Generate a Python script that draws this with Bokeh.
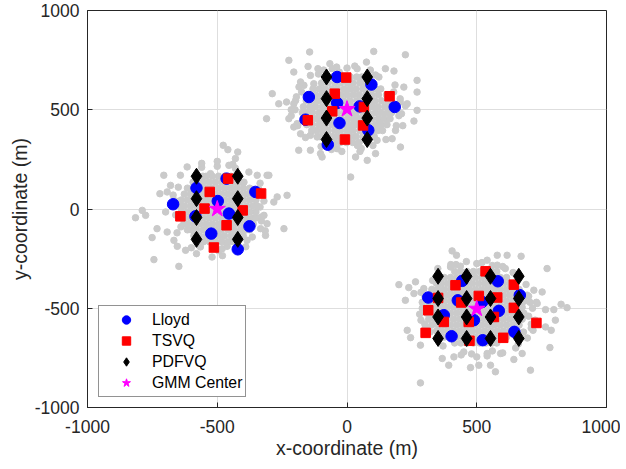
from bokeh.plotting import figure
from bokeh.models import Range1d, FixedTicker, Legend, LegendItem
from bokeh.embed import file_html
from bokeh.resources import INLINE

TICKS = [-1000, -500, 0, 500, 1000]
TICK_LABELS = ["-1000", "-500", "0", "500", "1000"]
X_LABEL = "x-coordinate (m)"
Y_LABEL = "y-coordinate (m)"
SERIES = ["Lloyd", "TSVQ", "PDFVQ", "GMM Center"]

# --- Lloyd codewords (blue circles)
lloyd_x = [-38, 94, -147, -38, 49, 184, -160, -29, 82, -74,
           -464, -580, -353, -670, -498, -455, -584, -376, -523, -421,
           313, 444, 581, 666, 427, 521, 373, 585, 489, 645, 403, 523]
lloyd_y = [665, 627, 564, 534, 517, 514, 450, 433, 397, 324,
           153, 106, 86, 24, 40, -23, -37, -87, -124, -203,
           -446, -362, -364, -434, -460, -468, -535, -513, -560, -619, -641, -661]

# --- TSVQ codewords (red squares)
tsvq_x = [-3, -47, 164, -57, 65, -151, 62, -8,
          -458, -529, -331, -549, -402, -642, -464, -513,
          534, 418, 643, 508, 579, 313, 643, 440, 373, 566, 469, 730, 303, 602, 472, 351]
tsvq_y = [662, 581, 568, 492, 514, 447, 421, 350,
          153, 86, 78, 2, -7, -37, -82, -194,
          -314, -384, -381, -438, -446, -510, -498, -471, -569, -544, -569, -574, -624, -649, -664, -448]

# --- PDFVQ codewords (black diamonds)
pdfvq_x = [-79, 78, -79, 78, -79, 78, -79, 78,
           -580, -421, -580, -421, -580, -421, -580, -421,
           351, 461, 553, 662, 351, 461, 553, 662, 351, 461, 553, 662, 351, 461, 553, 662]
pdfvq_y = [665, 665, 556, 556, 458, 458, 350, 350,
           165, 165, 52, 52, -43, -43, -153, -153,
           -339, -339, -339, -339, -451, -451, -451, -451, -544, -544, -544, -544, -652, -652, -652, -652]

# --- GMM centres (magenta stars)
gmm_x = [0, -500, 500]
gmm_y = [503, 0, -503]

# --- gray samples: scattered outer points
gray1_x = [-144, 103, 225, -224, -66, 75, -150, -112, -57, 39, 148, -205, -141, 123, 181, -179, -166,
           -128, -288, -263, -233, -198, 270, 270, 219, -310, -224, -205, -192, 258, 270, 232, 187, 174,
           116, -141, -179, -115, -186, -141, -96, -102, -38, 33, 78, 110, 14, -301, 206,
           -200, -195, 205, 200, 185, -185, -110, 110, 0, -60, 55, 150, -160, 215, -30, 40, -215, 225,
           -190, -205, -175, 190, 205, 180, -90, -40, 30, 90, -100, -20, 50, 100, -215, 210]
gray1_y = [791, 794, 777, 749, 732, 740, 718, 707, 707, 707, 707, 690, 673, 665, 695, 640, 623,
           631, 581, 530, 539, 547, 648, 589, 614, 455, 455, 413, 430, 443, 497, 530, 396, 354,
           346, 371, 379, 363, 296, 296, 262, 279, 304, 262, 245, 279, 161, 170, 312,
           500, 565, 555, 470, 625, 615, 680, 675, 710, 300, 305, 350, 360, 420, 690, 320, 470, 520,
           420, 530, 590, 420, 540, 590, 700, 715, 720, 700, 315, 290, 290, 320, 500, 480]

gray2_x = [-477, -459, -421, -430, -455, -616, -706, -642, -526, -378, -346, -308, -680, -721, -693,
           -269, -282, -231, -789, -815, -776, -699, -320, -308, -243, -333, -314, -732, -693, -751,
           -667, -654, -622, -565, -481, -462, -744, -648, -385, -365, -520,
           -660, -330, -640, -340, -560, -430, -500, -650, -335, -600, -390, -495,
           -660, -670, -655, -330, -320, -335, -560, -500, -440, -580, -480, -420, -680, -315]
gray2_y = [321, 299, 287, 254, 220, 212, 170, 170, 178, 186, 170, 170, 119, 77, 86,
           61, 35, 69, -7, -44, -32, -15, -32, -74, -99, -99, -133, -99, -116, -144,
           -158, -188, -208, -191, -200, -188, -255, -289, -158, -141, -242,
           40, -40, -90, 100, 210, 205, 215, 110, 10, -195, -190, -210,
           -30, 70, -120, -60, 40, 130, 230, 240, 225, -225, -235, -215, 20, -110]

gray3_x = [405, 422, 540, 579, 617, 671, 579, 399, 437, 771, 200, 238, 264, 258, 225, 296, 720, 752,
           694, 733, 765, 797, 825, 848, 803, 765, 787, 717, 232, 245, 283, 303, 782, 675, 643, 367,
           392, 476, 508, 572, 707, 283, 592, 553, 412, 540,
           290, 300, 700, 705, 690, 320, 330, 680, 400, 600, 500, 450, 560, 285, 710, 480,
           700, 715, 725, 710, 730, 695, 290, 280, 300, 285, 420, 460, 520, 560, 610, 440, 500, 540,
           600, 650, 350, 640, 370, 660]
gray3_y = [-211, -233, -258, -233, -233, -238, -283, -292, -288, -300, -381, -396, -367, -426, -460,
           -401, -409, -418, -434, -476, -507, -507, -480, -497, -560, -594, -611, -611, -611, -648,
           -686, -594, -698, -728, -758, -753, -787, -799, -787, -820, -812, -876, -728, -787, -745, -728,
           -500, -440, -540, -470, -380, -620, -360, -620, -280, -290, -275, -720, -715, -560, -580, -730,
           -440, -500, -560, -600, -470, -650, -470, -530, -580, -420, -280, -265, -270, -285, -300,
           -735, -745, -740, -725, -700, -300, -320, -690, -680]

# --- gray samples: dense cores, as (row y, row x values)
core1_rows = [
    (335, [-50, -26, -2, 22, 47]),
    (365, [-106, -85, -59, -37, -13, 11, 35, 61, 83, 105]),
    (395, [-136, -118, -95, -73, -47, -25, 1, 23, 49, 71, 97, 119, 137]),
    (425, [-155, -133, -107, -85, -59, -37, -11, 13, 35, 61, 83, 109, 131, 154]),
    (455, [-167, -145, -119, -97, -71, -49, -23, 2, 25, 47, 73, 95, 121, 143, 166]),
    (485, [-172, -155, -133, -107, -85, -59, -37, -11, 13, 35, 61, 83, 109, 131, 155, 171]),
    (515, [-168, -143, -121, -95, -73, -47, -25, 1, 23, 49, 71, 97, 119, 145, 167]),
    (545, [-157, -131, -109, -83, -61, -35, -13, 11, 37, 59, 85, 107, 133, 157]),
    (575, [-153, -121, -97, -71, -49, -23, 0, 24, 47, 73, 95, 121, 152]),
    (605, [-131, -107, -85, -59, -37, -11, 13, 35, 61, 83, 109, 130]),
    (635, [-98, -73, -47, -25, 2, 23, 49, 71, 96]),
    (665, [-58, -35, -11, 13, 37, 57]),
]
core2_rows = [
    (-165, [-553, -530, -506, -482, -458, -438]),
    (-135, [-590, -568, -542, -520, -494, -472, -446, -424, -400]),
    (-105, [-615, -601, -580, -554, -532, -506, -484, -458, -436, -410, -388, -375]),
    (-75, [-629, -615, -591, -567, -543, -519, -495, -471, -447, -423, -399, -375, -361]),
    (-45, [-639, -627, -603, -579, -555, -531, -507, -483, -459, -435, -411, -387, -363, -351]),
    (-15, [-639, -615, -591, -567, -543, -519, -495, -471, -447, -423, -399, -375, -351]),
    (15, [-643, -627, -603, -579, -555, -531, -507, -483, -459, -435, -411, -387, -363, -347]),
    (45, [-639, -615, -591, -567, -543, -519, -495, -471, -447, -423, -399, -375, -351]),
    (75, [-627, -603, -579, -555, -531, -507, -483, -459, -435, -411, -387, -363]),
    (105, [-615, -591, -567, -543, -519, -495, -471, -447, -423, -399, -375]),
    (135, [-593, -579, -555, -531, -507, -483, -459, -435, -411, -397]),
    (165, [-555, -543, -519, -495, -471, -447, -435]),
]
core3_rows = [
    (-675, [415, 439, 463, 487, 511, 535, 559, 577]),
    (-645, [375, 399, 423, 447, 471, 495, 519, 543, 567, 591, 615]),
    (-615, [345, 363, 387, 411, 435, 459, 483, 507, 531, 555, 579, 603, 627, 645]),
    (-585, [327, 351, 375, 399, 423, 447, 471, 495, 519, 543, 567, 591, 615, 639, 663]),
    (-555, [315, 339, 363, 387, 411, 435, 459, 483, 507, 531, 555, 579, 603, 627, 651, 675]),
    (-525, [308, 327, 351, 375, 399, 423, 447, 471, 495, 519, 543, 567, 591, 615, 639, 663, 682]),
    (-495, [315, 339, 363, 387, 411, 435, 459, 483, 507, 531, 555, 579, 603, 627, 651, 675]),
    (-465, [308, 327, 351, 375, 399, 423, 447, 471, 495, 519, 543, 567, 591, 615, 639, 663, 682]),
    (-435, [315, 339, 363, 387, 411, 435, 459, 483, 507, 531, 555, 579, 603, 627, 651, 675]),
    (-405, [327, 351, 375, 399, 423, 447, 471, 495, 519, 543, 567, 591, 615, 639, 663]),
    (-375, [345, 363, 387, 411, 435, 459, 483, 507, 531, 555, 579, 603, 627, 645]),
    (-345, [375, 399, 423, 447, 471, 495, 519, 543, 567, 591, 615]),
    (-315, [415, 439, 463, 487, 511, 535, 559, 577]),
]

# build gray table
gx, gy = [], []
for xs, ys in ((gray1_x, gray1_y), (gray2_x, gray2_y), (gray3_x, gray3_y)):
    gx += xs
    gy += ys
for rows in (core1_rows, core2_rows, core3_rows):
    for yv, xs in rows:
        gx += xs
        gy += [yv] * len(xs)

FONT = "Liberation Sans"
AX = "#262626"

p = figure(width=620, height=465, output_backend="svg", toolbar_location=None,
           x_range=Range1d(-1000, 1000), y_range=Range1d(-1000, 1000),
           min_border_left=87, min_border_right=14, min_border_top=10, min_border_bottom=58)
p.background_fill_color = "white"
p.border_fill_color = "white"
p.outline_line_color = AX
p.outline_line_width = 1
p.outline_line_alpha = 1

p.scatter(gx, gy, size=6.5, marker="circle", fill_color="#cacaca", line_color="#cacaca")

r1 = p.scatter(lloyd_x, lloyd_y, marker="circle", size=11.5, fill_color="#0000ff", line_color="#0000ff")
r2 = p.scatter(tsvq_x, tsvq_y, marker="square", size=9.5, fill_color="#ff0000", line_color="#ff0000")
r3 = p.scatter(pdfvq_x, pdfvq_y, marker="diamond", size=16, fill_color="black", line_color="black")
r4 = p.scatter(gmm_x, gmm_y, marker="star", size=17, fill_color="#ff00ff", line_color="#ff00ff")

for ax in (p.xaxis[0], p.yaxis[0]):
    ax.ticker = FixedTicker(ticks=TICKS)
    ax.major_label_overrides = {t: l for t, l in zip(TICKS, TICK_LABELS)}
    ax.major_tick_in = 5
    ax.major_tick_out = 0
    ax.minor_tick_in = 0
    ax.minor_tick_out = 0
    ax.axis_line_color = AX
    ax.major_tick_line_color = AX
    ax.major_label_text_font = FONT
    ax.major_label_text_font_size = "17.5px"
    ax.major_label_text_color = AX
    ax.axis_label_text_font = FONT
    ax.axis_label_text_font_size = "19.5px"
    ax.axis_label_text_font_style = "normal"
    ax.axis_label_text_color = AX
    ax.axis_label_standoff = 1

p.xaxis[0].axis_label = X_LABEL
p.yaxis[0].axis_label = Y_LABEL
p.xaxis[0].major_label_standoff = 12
p.yaxis[0].major_label_standoff = 8

p.xgrid.ticker = FixedTicker(ticks=TICKS)
p.ygrid.ticker = FixedTicker(ticks=TICKS)
p.grid.grid_line_color = "#dedede"
p.grid.grid_line_width = 1

legend = Legend(items=[LegendItem(label=SERIES[0], renderers=[r1]),
                       LegendItem(label=SERIES[1], renderers=[r2]),
                       LegendItem(label=SERIES[2], renderers=[r3]),
                       LegendItem(label=SERIES[3], renderers=[r4])],
                location=(11, 10))
legend.label_text_font = FONT
legend.label_text_font_size = "15.8px"
legend.label_text_color = "black"
legend.glyph_width = 48
legend.glyph_height = 21
legend.label_height = 21
legend.label_standoff = 2
legend.spacing = 0
legend.padding = 3
legend.margin = 0
legend.border_line_color = AX
legend.border_line_width = 1
legend.background_fill_color = "white"
legend.background_fill_alpha = 1
p.add_layout(legend)

open("out.html", "w").write(file_html(p, INLINE))
